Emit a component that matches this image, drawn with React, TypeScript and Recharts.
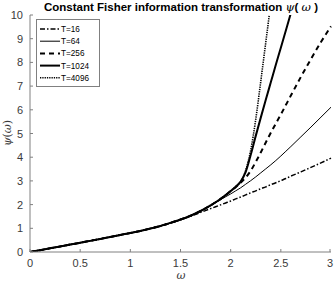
import React from "react";
import { LineChart, Line, XAxis, YAxis, Legend } from "recharts";

// omega grid (finer where the curves bend) and values
const omega = [
  0, 0.1, 0.2, 0.3, 0.4, 0.5, 0.6, 0.7, 0.8, 0.9, 1.0, 1.1, 1.2, 1.3, 1.4, 1.5, 1.6, 1.7, 1.8,
  1.85, 1.9, 1.95, 2.0, 2.05, 2.1, 2.15, 2.2, 2.25, 2.3, 2.35, 2.4, 2.45, 2.5, 2.55, 2.6,
  2.7, 2.8, 2.9, 3.0,
];

const t16 = [
  0, 0.077, 0.155, 0.233, 0.312, 0.39, 0.47, 0.55, 0.635, 0.72, 0.8, 0.89, 0.99, 1.1, 1.22, 1.36, 1.51, 1.67, 1.83,
  1.91, 1.99, 2.07, 2.15, 2.24, 2.32, 2.41, 2.5, 2.58, 2.67, 2.75, 2.84, 2.92, 3.01, 3.1, 3.2,
  3.38, 3.57, 3.76, 3.96,
];
const t64 = [
  0, 0.077, 0.155, 0.233, 0.312, 0.39, 0.47, 0.55, 0.635, 0.72, 0.8, 0.89, 0.99, 1.1, 1.23, 1.37, 1.53, 1.72, 1.95,
  2.08, 2.21, 2.33, 2.45, 2.58, 2.71, 2.86, 3.01, 3.17, 3.34, 3.51, 3.68, 3.86, 4.05, 4.25, 4.45,
  4.86, 5.27, 5.69, 6.11,
];
const t256 = [
  0, 0.077, 0.155, 0.233, 0.312, 0.39, 0.47, 0.55, 0.635, 0.72, 0.8, 0.89, 0.99, 1.1, 1.23, 1.37, 1.53, 1.73, 1.97,
  2.1, 2.24, 2.4, 2.56, 2.73, 2.92, 3.14, 3.43, 3.8, 4.2, 4.62, 5.03, 5.42, 5.8, 6.2, 6.6,
  7.39, 8.14, 8.86, 9.52,
];
const t1024 = [
  0, 0.077, 0.155, 0.233, 0.312, 0.39, 0.47, 0.55, 0.635, 0.72, 0.8, 0.89, 0.99, 1.1, 1.23, 1.37, 1.53, 1.73, 1.97,
  2.1, 2.24, 2.4, 2.57, 2.75, 2.97, 3.38, 4.1, 4.9, 5.67, 6.42, 7.16, 7.9, 8.62, 9.35, 10.08,
  null, null, null, null,
];
const t4096 = [
  0, 0.077, 0.155, 0.233, 0.312, 0.39, 0.47, 0.55, 0.635, 0.72, 0.8, 0.89, 0.99, 1.1, 1.23, 1.37, 1.53, 1.73, 1.97,
  2.1, 2.24, 2.4, 2.58, 2.76, 2.98, 3.45, 4.3, 5.6, 7.2, 8.85, 10.5, null, null, null, null,
  null, null, null, null,
];

const xTicks = [0, 0.5, 1, 1.5, 2, 2.5, 3];
const yTicks = [0, 1, 2, 3, 4, 5, 6, 7, 8, 9, 10];

const series = [
  { key: "t16", name: "T=16", values: t16, width: 1.5, dash: "5 2 1.5 2" },
  { key: "t64", name: "T=64", values: t64, width: 1, dash: undefined },
  { key: "t256", name: "T=256", values: t256, width: 2, dash: "5 4" },
  { key: "t1024", name: "T=1024", values: t1024, width: 2, dash: undefined },
  { key: "t4096", name: "T=4096", values: t4096, width: 1.6, dash: "1.3 1" },
];

const data = omega.map((w, i) => {
  const row: any = { w };
  series.forEach((s) => (row[s.key] = s.values[i]));
  return row;
});

const AXIS = "#808080";
const LABEL = "#3a3a3a";
const FONT = "'Liberation Sans', Arial, Helvetica, sans-serif";

const XTick = (props: any) => {
  const { x, y, payload } = props;
  const axisY = y - 4;
  return (
    <g>
      <line x1={x} y1={axisY} x2={x} y2={axisY - 3} stroke={AXIS} />
      <text x={x} y={axisY + 15} textAnchor="middle" fontSize={11} fill={LABEL} fontFamily={FONT}>
        {payload.value}
      </text>
    </g>
  );
};

const YTick = (props: any) => {
  const { x, y, payload } = props;
  const axisX = x + 7;
  return (
    <g>
      <line x1={axisX} y1={y} x2={axisX + 3} y2={y} stroke={AXIS} />
      <text x={x} y={y + 4} textAnchor="end" fontSize={11} fill={LABEL} fontFamily={FONT}>
        {payload.value}
      </text>
    </g>
  );
};

const LegendBox = () => (
  <svg width={64} height={68} style={{ display: "block" }}>
    <rect x={0.5} y={0.5} width={63} height={67} fill="#fff" stroke={AXIS} />
    {series.map((s, i) => {
      const cy = 10 + i * 12.2;
      return (
        <g key={s.key}>
          <line x1={4} y1={cy} x2={24} y2={cy} stroke="#000" strokeWidth={s.width} strokeDasharray={s.dash} />
          <text x={25} y={cy + 3} fontSize={8.2} fill="#000" fontFamily={FONT}>
            {s.name}
          </text>
        </g>
      );
    })}
  </svg>
);

export default function App() {
  return (
    <div style={{ position: "fixed", left: 0, top: 0, background: "#fff" }}>
      <LineChart width={334} height={282} data={data} margin={{ top: 15, right: 3, bottom: 0, left: 0 }}>
        <XAxis
          dataKey="w"
          type="number"
          domain={[0, 3]}
          ticks={xTicks}
          height={30}
          stroke={AXIS}
          tickSize={0}
          tickMargin={4}
          tick={<XTick />}
        />
        <YAxis
          type="number"
          domain={[0, 10]}
          ticks={yTicks}
          allowDataOverflow
          width={30}
          stroke={AXIS}
          tickSize={0}
          tickMargin={7}
          tick={<YTick />}
        />
        <Legend
          layout="horizontal"
          verticalAlign="middle"
          content={<LegendBox />}
          wrapperStyle={{ left: 36, top: 19, width: 64, height: 68 }}
        />
        {series.map((s) => (
          <Line
            key={s.key}
            dataKey={s.key}
            name={s.name}
            type="monotone"
            stroke="#000"
            strokeWidth={s.width}
            strokeDasharray={s.dash}
            dot={false}
            activeDot={false}
            connectNulls={false}
            isAnimationActive={false}
          />
        ))}
        <text x={181} y={11} textAnchor="middle" fontSize={11.5} fontFamily={FONT} fill="#000">
          <tspan fontWeight="bold">Constant Fisher information transformation </tspan>
          <tspan fontStyle="italic" fontFamily="'DejaVu Serif', serif">ψ</tspan>
          <tspan fontWeight="bold">( </tspan>
          <tspan fontStyle="italic" fontFamily="'DejaVu Serif', serif">ω</tspan>
          <tspan fontWeight="bold"> )</tspan>
        </text>
        <text x={181} y={279} textAnchor="middle" fontSize={11} fontStyle="italic" fontFamily="'DejaVu Serif', serif" fill={LABEL}>
          ω
        </text>
        <text
          x={11}
          y={133}
          textAnchor="middle"
          fontSize={11}
          fontFamily="'DejaVu Serif', serif"
          fill={LABEL}
          transform="rotate(-90 11 133)"
        >
          <tspan fontStyle="italic">ψ</tspan>(<tspan fontStyle="italic">ω</tspan>)
        </text>
      </LineChart>
    </div>
  );
}
